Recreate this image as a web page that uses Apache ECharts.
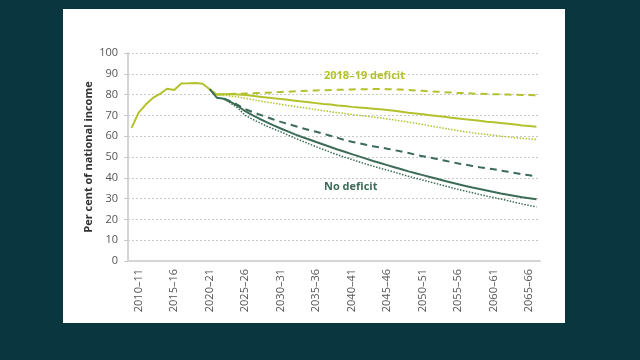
<!DOCTYPE html>
<html><head><meta charset="utf-8">
<script src="https://cdn.jsdelivr.net/npm/echarts@6/dist/echarts.min.js"></script>
<style>html,body{margin:0;padding:0;background:#0a3640;}#c{width:640px;height:360px;}</style>
</head><body><div id="c"></div>
<script>
// Categories: fiscal years 2009–10 to 2066–67
const years = [];
for (let y = 2009; y <= 2066; y++) years.push(y + '\u2013' + String((y + 1) % 100).padStart(2, '0'));

// Outturn (2009–10 to 2020–21)
const history = [64.0, 71.3, 75.2, 78.4, 80.3, 82.8, 82.2, 85.3, 85.4, 85.6, 85.2, 82.6];

// 2018–19 deficit scenarios (from 2021–22)
const deficitSolid = [80.0, 80.2, 80.3, 80.1, 79.8, 79.4, 79.0, 78.6, 78.2, 77.9, 77.5, 77.1, 76.7, 76.3, 75.9, 75.5, 75.2, 74.8, 74.5, 74.1, 73.8, 73.5, 73.2, 72.9, 72.6, 72.2, 71.8, 71.3, 70.9, 70.5, 70.1, 69.7, 69.3, 68.9, 68.5, 68.1, 67.8, 67.4, 67.0, 66.7, 66.3, 66.0, 65.6, 65.2, 64.9, 64.5];
const deficitDashed = [80.0, 80.2, 80.3, 80.4, 80.5, 80.6, 80.8, 80.9, 81.1, 81.3, 81.4, 81.6, 81.7, 81.9, 82.0, 82.1, 82.2, 82.3, 82.4, 82.5, 82.6, 82.6, 82.7, 82.7, 82.6, 82.5, 82.4, 82.2, 82.0, 81.8, 81.6, 81.4, 81.2, 81.0, 80.8, 80.7, 80.5, 80.4, 80.3, 80.2, 80.1, 80.0, 79.9, 79.8, 79.8, 79.7];
const deficitDotted = [80.0, 79.8, 79.3, 78.8, 78.2, 77.6, 77.0, 76.4, 75.9, 75.3, 74.8, 74.3, 73.8, 73.3, 72.8, 72.3, 71.8, 71.3, 70.9, 70.4, 70.0, 69.6, 69.2, 68.8, 68.3, 67.8, 67.3, 66.8, 66.2, 65.6, 65.0, 64.4, 63.8, 63.2, 62.6, 62.1, 61.6, 61.2, 60.8, 60.4, 60.0, 59.7, 59.3, 59.0, 58.7, 58.4];

// No deficit scenarios (solid from 2020–21, others from 2022–23)
const noDefSolid = [82.6, 78.5, 78.0, 76.4, 74.4, 72.0, 70.1, 68.4, 66.8, 65.2, 63.7, 62.3, 60.9, 59.6, 58.4, 57.2, 56.0, 54.8, 53.6, 52.5, 51.4, 50.3, 49.2, 48.1, 47.1, 46.1, 45.1, 44.1, 43.1, 42.2, 41.3, 40.4, 39.5, 38.6, 37.7, 36.9, 36.1, 35.3, 34.6, 33.9, 33.2, 32.5, 31.9, 31.3, 30.7, 30.2, 29.7];
const noDefDashed = [78.0, 76.8, 74.9, 73.0, 71.7, 70.4, 69.2, 68.0, 66.9, 65.9, 64.9, 63.9, 63.0, 62.1, 61.2, 60.2, 59.2, 58.2, 57.3, 56.6, 55.9, 55.2, 54.6, 54.0, 53.3, 52.6, 51.9, 51.1, 50.4, 49.7, 49.0, 48.3, 47.6, 46.9, 46.3, 45.7, 45.1, 44.6, 44.1, 43.5, 42.9, 42.3, 41.7, 41.2, 40.7];
const noDefDotted = [78.0, 75.8, 73.4, 70.0, 68.2, 66.5, 64.9, 63.5, 62.1, 60.6, 59.1, 57.7, 56.3, 54.9, 53.6, 52.3, 51.1, 49.9, 48.8, 47.7, 46.6, 45.6, 44.6, 43.7, 42.7, 41.7, 40.7, 39.8, 38.9, 38.0, 37.1, 36.2, 35.3, 34.4, 33.6, 32.8, 32.0, 31.2, 30.5, 29.8, 29.0, 28.2, 27.4, 26.7, 26.0];

const yTicks = [0, 10, 20, 30, 40, 50, 60, 70, 80, 90, 100];

function pad(startIdx, arr) {
  const out = new Array(years.length).fill(null);
  arr.forEach((v, i) => { out[startIdx + i] = v; });
  return out;
}
const LIGHT = '#b3c22c', DARK = '#3c6c57';
const lightSolidFull = pad(0, history.concat(deficitSolid));

const chart = echarts.init(document.getElementById('c'), null, {renderer: 'canvas'});
const line = (name, data, color, type, width, z) => ({
  name, type: 'line', data, symbol: 'none', connectNulls: false, z: z || 2,
  lineStyle: {color, width, type}, silent: true, animation: false
});
chart.setOption({
  animation: false,
  backgroundColor: 'transparent',
  textStyle: {fontFamily: 'Open Sans'},
  graphic: [
    {type: 'rect', z: -10, shape: {x: 63, y: 9, width: 502, height: 314}, style: {fill: '#ffffff'}},
    {type: 'text', left: 324, top: 70, z: 10, style: {text: '2018\u201319 deficit', fill: LIGHT, font: 'bold 11px "Open Sans"'}},
    {type: 'text', left: 324, top: 181, z: 10, style: {text: 'No deficit', fill: DARK, font: 'bold 11px "Open Sans"'}}
  ],
  grid: {left: 128, right: 100, top: 53, bottom: 99, containLabel: false},
  xAxis: {
    type: 'category', data: years, boundaryGap: true,
    axisLine: {lineStyle: {color: '#d4d4d4', width: 2}},
    axisTick: {interval: 0, length: 4, lineStyle: {color: '#c8c8c8'}},
    axisLabel: {interval: (i) => i % 5 === 1, rotate: 90, margin: 8, color: '#555', fontSize: 11, fontFamily: 'Open Sans'},
    splitLine: {show: false}
  },
  yAxis: {
    type: 'value', min: yTicks[0], max: yTicks[yTicks.length - 1], interval: 10,
    name: 'Per cent of national income', nameLocation: 'middle', nameGap: 34, nameMoveOverlap: false,
    nameTextStyle: {fontWeight: 'bold', fontSize: 11, color: '#333', fontFamily: 'Open Sans'},
    axisLine: {show: true, lineStyle: {color: '#d4d4d4', width: 2}},
    axisTick: {show: true, length: 4, lineStyle: {color: '#c8c8c8'}},
    axisLabel: {color: '#555', fontSize: 11, margin: 10, fontFamily: 'Open Sans'},
    splitLine: {lineStyle: {color: '#c8c8c8', type: [2, 2], width: 1}}
  },
  series: [
    line('2018–19 deficit', lightSolidFull, LIGHT, 'solid', 2, 3),
    line('2018–19 deficit (dashed)', pad(12, deficitDashed), LIGHT, [7, 5], 2, 3),
    line('2018–19 deficit (dotted)', pad(12, deficitDotted), LIGHT, [1.5, 1.5], 1.5, 3),
    line('No deficit', pad(11, noDefSolid), DARK, 'solid', 2, 4),
    line('No deficit (dashed)', pad(13, noDefDashed), DARK, [7, 5], 2, 4),
    line('No deficit (dotted)', pad(13, noDefDotted), DARK, [1.5, 1.5], 1.5, 4)
  ]
});
</script></body></html>
